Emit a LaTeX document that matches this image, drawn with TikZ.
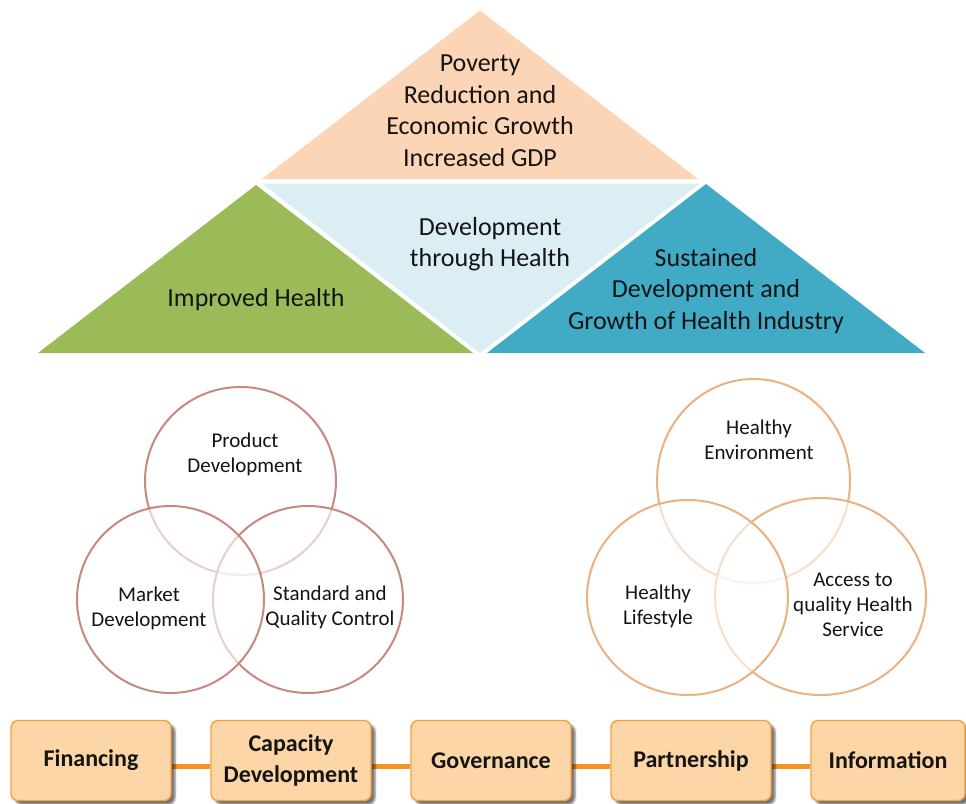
\documentclass[tikz,border=0pt]{standalone}
\usepackage{fontspec}
\setmainfont{Carlito}
\usetikzlibrary{shapes.geometric,shadows.blur,backgrounds}
\definecolor{peach}{HTML}{FBD5B5}
\definecolor{paleblue}{HTML}{DAEEF4}
\definecolor{leafgreen}{HTML}{9BBB59}
\definecolor{teal}{HTML}{41AAC5}
\definecolor{rosy}{HTML}{C78880}
\definecolor{apricot}{HTML}{ECB180}
\definecolor{boxfill}{HTML}{FCD6A6}
\definecolor{boxline}{HTML}{F5A140}
\definecolor{linkor}{HTML}{F7941D}
\definecolor{ink}{HTML}{141414}
\begin{document}
\begin{tikzpicture}[x=1pt,y=-1pt,
  bigtext/.style={align=center,text=ink,font=\fontsize{26}{31.5}\selectfont,inner sep=0pt},
  smalltext/.style={align=center,text=ink,font=\fontsize{21}{25}\selectfont,inner sep=0pt},
  ring/.style={shape=ellipse,draw=#1,line width=2pt,fill=white,fill opacity=0.6,draw opacity=1,inner sep=0pt},
  stepbox/.style={draw=boxline,line width=1.4pt,fill=boxfill,rounded corners=7pt,
    minimum height=80pt,minimum width=160pt,inner sep=0pt,align=center,text=ink,
    font=\fontsize{24}{31}\selectfont\bfseries,
    blur shadow={shadow xshift=4pt,shadow yshift=-4pt,shadow blur steps=6,shadow opacity=55}},
  link/.style={draw=linkor,line width=5pt}]
\useasboundingbox (0,0) rectangle (966,803);

% triangles
\fill[peach] (480,10.5) -- (698,179) -- (262,179) -- cycle;
\fill[paleblue] (262,183.5) -- (700,183.5) -- (480,353) -- cycle;
\fill[leafgreen] (256,185) -- (473,353) -- (38,353) -- cycle;
\fill[teal] (706,184) -- (925,353) -- (487,353) -- cycle;

\node[bigtext] (pov) at (480,111) {Poverty\\Reduction and\\Economic Growth\\Increased GDP};
\node[bigtext] (dev) at (490,244) {Development\\through Health};
\node[bigtext] (imp) at (256,300) {Improved Health};
\node[bigtext] (sus) at (706,291) {Sustained\\Development and\\Growth of Health Industry};

% left rings
\node[ring=rosy,minimum width=191pt,minimum height=188pt] (pc) at (240.5,481) {};
\node[ring=rosy,minimum width=190pt,minimum height=187pt] (sc) at (308,599.5) {};
\node[ring=rosy,minimum width=187pt,minimum height=187pt] (mc) at (170.5,599.5) {};
\node[smalltext] (pt) at (245,454) {Product\\Development};
\node[smalltext] (mt) at (149,608) {Market\\Development};
\node[smalltext] (st) at (330,607) {Standard and\\Quality Control};

% right rings
\node[ring=apricot,minimum width=193pt,minimum height=204pt] (ec) at (753.5,481) {};
\node[ring=apricot,minimum width=211pt,minimum height=197pt] (ac) at (820.5,596.5) {};
\node[ring=apricot,minimum width=201pt,minimum height=195pt] (lc) at (687.5,597.5) {};
\node[smalltext] (et) at (759,440) {Healthy\\Environment};
\node[smalltext] (lt) at (658,606) {Healthy\\Lifestyle};
\node[smalltext] (at) at (853,605) {Access to\\quality Health\\Service};

% bottom chain
\node[stepbox] (b1) at (91,760.5) {Financing};
\node[stepbox] (b2) at (291,760.5) {Capacity\\Development};
\node[stepbox] (b3) at (491,760.5) {Governance};
\node[stepbox] (b4) at (691,760.5) {Partnership};
\node[stepbox,minimum width=154pt] (b5) at (888,760.5) {Information};
\begin{pgfonlayer}{background}
\draw[link] ([yshift=-5.5pt]b1.east) -- ([yshift=-5.5pt]b2.west);
\draw[link] ([yshift=-5.5pt]b2.east) -- ([yshift=-5.5pt]b3.west);
\draw[link] ([yshift=-5.5pt]b3.east) -- ([yshift=-5.5pt]b4.west);
\draw[link] ([yshift=-5.5pt]b4.east) -- ([yshift=-5.5pt]b5.west);
\end{pgfonlayer}
\end{tikzpicture}
\end{document}
